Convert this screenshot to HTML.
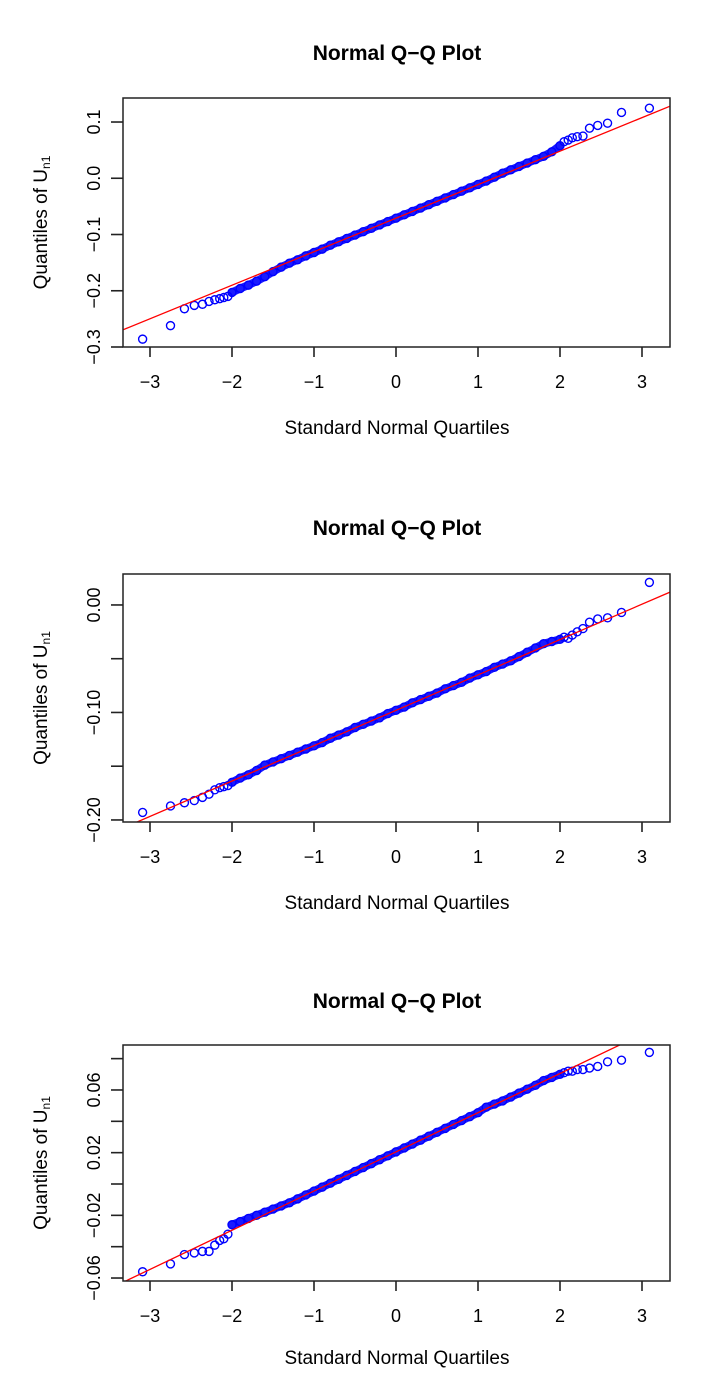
<!DOCTYPE html>
<html><head><meta charset="utf-8"><style>
html,body{margin:0;padding:0;background:#fff;}
svg{display:block;font-family:"Liberation Sans",Arial,sans-serif;}
</style></head><body>
<svg id="chart" width="705" height="1390" viewBox="0 0 705 1390"></svg>
<script>
const xQuantiles = [-3.09,-2.75,-2.58,-2.46,-2.36,-2.28,-2.21,-2.15,-2.10,-2.05,
-2.0,-1.9,-1.8,-1.7,-1.6,-1.5,-1.4,-1.3,-1.2,-1.1,-1.0,-0.9,-0.8,-0.7,-0.6,-0.5,-0.4,-0.3,-0.2,-0.1,
0,0.1,0.2,0.3,0.4,0.5,0.6,0.7,0.8,0.9,1.0,1.1,1.2,1.3,1.4,1.5,1.6,1.7,1.8,1.9,2.0,
2.05,2.10,2.15,2.21,2.28,2.36,2.46,2.58,2.75,3.09];
const series1 = [-0.286,-0.262,-0.232,-0.226,-0.224,-0.219,-0.216,-0.214,-0.212,-0.210,
-0.203,-0.196,-0.190,-0.183,-0.175,-0.166,-0.158,-0.151,-0.145,-0.138,-0.132,-0.126,-0.119,-0.113,-0.107,-0.101,-0.095,-0.089,-0.083,-0.077,
-0.071,-0.065,-0.059,-0.053,-0.047,-0.041,-0.035,-0.029,-0.023,-0.017,-0.011,-0.005,0.002,0.009,0.015,0.021,0.027,0.033,0.039,0.047,0.058,
0.065,0.068,0.072,0.074,0.075,0.089,0.094,0.098,0.117,0.1246];
const series2 = [-0.193,-0.187,-0.184,-0.182,-0.179,-0.176,-0.172,-0.170,-0.169,-0.168,
-0.165,-0.161,-0.158,-0.154,-0.149,-0.146,-0.143,-0.140,-0.137,-0.134,-0.131,-0.128,-0.124,-0.121,-0.118,-0.114,-0.111,-0.108,-0.105,-0.101,
-0.098,-0.095,-0.091,-0.088,-0.085,-0.082,-0.078,-0.075,-0.072,-0.068,-0.065,-0.062,-0.058,-0.055,-0.052,-0.048,-0.044,-0.040,-0.036,-0.034,-0.032,
-0.030,-0.031,-0.028,-0.025,-0.022,-0.016,-0.013,-0.012,-0.007,0.021];
const series3 = [-0.056,-0.051,-0.045,-0.044,-0.043,-0.043,-0.039,-0.036,-0.035,-0.032,
-0.026,-0.024,-0.022,-0.020,-0.018,-0.016,-0.014,-0.012,-0.0095,-0.007,-0.0045,-0.002,0.0005,0.003,0.0055,0.008,0.0105,0.013,0.0155,0.018,
0.0205,0.023,0.0255,0.028,0.0305,0.033,0.0355,0.038,0.0405,0.043,0.0455,0.049,0.051,0.053,0.0555,0.058,0.0605,0.063,0.066,0.068,0.070,
0.071,0.072,0.072,0.073,0.073,0.074,0.075,0.078,0.079,0.084];
const refIntercepts = [-0.071,-0.098,0.0205];
const refSlopes = [0.0596,0.0329,0.025];
const xTicks = [-3,-2,-1,0,1,2,3];
const yTicks1 = [0.1,0.0,-0.1,-0.2,-0.3];
const yTickLabels1 = ["0.1","0.0","\u22120.1","\u22120.2","\u22120.3"];
const yTicks2 = [0.0,-0.05,-0.1,-0.15,-0.2];
const yTickLabels2 = ["0.00","","\u22120.10","","\u22120.20"];
const yTicks3 = [0.08,0.06,0.04,0.02,0.0,-0.02,-0.04,-0.06];
const yTickLabels3 = ["","0.06","","0.02","","\u22120.02","","\u22120.06"];

const NS="http://www.w3.org/2000/svg";
const svg=document.getElementById('chart');
function mk(tag,attrs,parent){const e=document.createElementNS(NS,tag);for(const k in attrs)e.setAttribute(k,attrs[k]);(parent||svg).appendChild(e);return e;}

const panels=[
 {top:98,bottom:347,ymin:-0.3,ymax:0.1427,data:series1,ticks:yTicks1,labels:yTickLabels1,titleY:60,xlabY:434,name:'panel-1'},
 {top:574,bottom:822,ymin:-0.2019,ymax:0.0288,data:series2,ticks:yTicks2,labels:yTickLabels2,titleY:535,xlabY:909,name:'panel-2'},
 {top:1045,bottom:1281,ymin:-0.0619,ymax:0.0887,data:series3,ticks:yTicks3,labels:yTickLabels3,titleY:1008,xlabY:1364,name:'panel-3'}
];
const L=123,R=670;
const xs=v=>396+v*82;
panels.forEach((p,pi)=>{
 const ys=v=>p.bottom-(v-p.ymin)/(p.ymax-p.ymin)*(p.bottom-p.top);
 const g=mk('g',{});
 
 
 const t=mk('text',{x:397,y:p.titleY,'text-anchor':'middle','font-size':21,'font-weight':'bold',fill:'#000'},g);
 t.textContent='Normal Q\u2212Q Plot';
 
 
 const cid='clip'+pi;
 const cp=mk('clipPath',{id:cid},g);mk('rect',{x:L,y:p.top,width:R-L,height:p.bottom-p.top},cp);
 const pts=mk('g',{'clip-path':'url(#'+cid+')'},g);
 
 
 let d='';
 xQuantiles.forEach((xv,i)=>{if(xv>=-2&&xv<=2){d+=(d?'L':'M')+xs(xv).toFixed(1)+','+ys(p.data[i]).toFixed(1);}});
 const band=mk('path',{d:d,fill:'none',stroke:'#1a1aff','stroke-width':8,'stroke-linejoin':'round','stroke-linecap':'round'},pts);
 
 
 xQuantiles.forEach((xv,i)=>{
  const c=mk('circle',{cx:xs(xv),cy:ys(p.data[i]),r:4,fill:'none',stroke:'#0000ff','stroke-width':1.4},pts);
  
  
 });
 const x0=(L-396)/82,x1=(R-396)/82;
 const ln=mk('line',{x1:L,y1:ys(refIntercepts[pi]+refSlopes[pi]*x0),x2:R,y2:ys(refIntercepts[pi]+refSlopes[pi]*x1),stroke:'#ff0000','stroke-width':1.3,'clip-path':'url(#'+cid+')'},g);
 
 
 const box=mk('rect',{x:L,y:p.top,width:R-L,height:p.bottom-p.top,fill:'none',stroke:'#222','stroke-width':1.5},g);
 
 
 xTicks.forEach(v=>{
  mk('line',{x1:xs(v),x2:xs(v),y1:p.bottom,y2:p.bottom+10,stroke:'#222','stroke-width':1.6},g);
  const tl=mk('text',{x:xs(v),y:p.bottom+41,'text-anchor':'middle','font-size':18,fill:'#000'},g);
  tl.textContent=v<0?'\u2212'+Math.abs(v):String(v);
  
  
 });
 p.ticks.forEach((v,i)=>{
  const y=ys(v);
  mk('line',{x1:L,x2:L-12,y1:y,y2:y,stroke:'#222','stroke-width':1.6},g);
  if(p.labels[i]){
   const tl=mk('text',{x:0,y:0,transform:'translate(100,'+y+') rotate(-90)','text-anchor':'middle','font-size':18,fill:'#000'},g);
   tl.textContent=p.labels[i];
   
   
  }
 });
 const xl=mk('text',{x:397,y:p.xlabY,'text-anchor':'middle','font-size':19,fill:'#000'},g);
 xl.textContent='Standard Normal Quartiles';
 
 
 const cy=(p.top+p.bottom)/2;
 const yl=mk('text',{x:0,y:0,transform:'translate(47,'+cy+') rotate(-90)','text-anchor':'middle','font-size':19,fill:'#000'},g);
 yl.textContent='Quantiles of U';
 const sub=mk('tspan',{'font-size':12,dy:3},yl);sub.textContent='n1';
 
 
});
</script>
</body></html>
